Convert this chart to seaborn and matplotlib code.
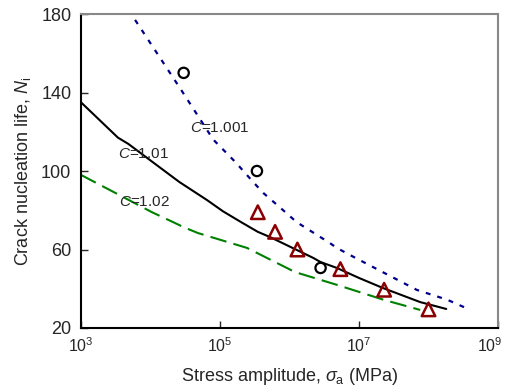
import numpy as np
import pandas as pd
import seaborn as sns
import matplotlib.pyplot as plt
from matplotlib.ticker import NullLocator
from matplotlib.transforms import ScaledTranslation

# curves (stress amplitude, crack nucleation life)
c1001_x = [6e3, 2.8e4, 8e4, 1.66e5, 3e5, 4.2e5, 9e5, 1.26e6, 3.8e6, 4.8e6, 7.4e6, 6.8e7, 1.86e8, 4e8]
c1001_y = [177, 141, 116, 104.6, 94.4, 88.8, 78.6, 74, 63.3, 60.8, 57.2, 39.4, 34.4, 29.2]

c101_x = [1e3, 3.4e3, 4.8e3, 2.6e4, 6.5e4, 1.1e5, 2e5, 3.5e5, 5.2e5, 2.2e6, 2.8e6, 4.8e6, 1e7, 2.2e7, 7.6e7, 1.8e8]
c101_y = [135, 117, 113.8, 94.4, 85.2, 79.5, 74, 69, 66.4, 55.7, 53.6, 50.6, 45.5, 40.4, 33.2, 29.7]

c102_x = [1e3, 2.6e3, 1.05e4, 2.1e4, 2.95e4, 4.8e4, 2.45e5, 1.2e6, 4.8e6, 2.3e7, 7.6e7]
c102_y = [98, 90.3, 79, 74, 71.5, 68.4, 60.8, 48.5, 42, 34.3, 29.2]

# experiments
circ_x = [3e4, 3.4e5, 2.8e6]
circ_y = [150, 100, 50.6]
tri_x = [3.5e5, 6.2e5, 1.3e6, 5.4e6, 2.3e7, 1e8]
tri_y = [79, 69, 60, 50, 39.5, 29.5]

x_ticks = [1e3, 1e5, 1e7, 1e9]
y_ticks = [20, 60, 100, 140, 180]

sns.set_style("ticks")
plt.rcParams["font.family"] = ["Liberation Sans", "DejaVu Sans"]
plt.rcParams["mathtext.fontset"] = "custom"
plt.rcParams["mathtext.rm"] = "Liberation Sans"
plt.rcParams["mathtext.it"] = "Liberation Sans:italic"

W, H = 506, 392
fig = plt.figure(figsize=(W / 100, H / 100), dpi=100)
ax = fig.add_axes([81 / W, 1 - 328 / H, 417 / W, 314 / H])

sns.lineplot(x=c1001_x, y=c1001_y, ax=ax, color="#00008B", lw=1.6, linestyle=(0, (2.2, 3.2)), sort=False)
sns.lineplot(x=c101_x, y=c101_y, ax=ax, color="black", lw=1.5, sort=False)
sns.lineplot(x=c102_x, y=c102_y, ax=ax, color="#008000", lw=1.5, linestyle=(0, (8, 3.5)), sort=False)

sns.scatterplot(x=circ_x, y=circ_y, ax=ax, marker="o", s=55, facecolor="none",
                edgecolor="black", linewidth=1.6, zorder=5)
sns.scatterplot(x=tri_x, y=tri_y, ax=ax, marker="^", s=95, facecolor="none",
                edgecolor="#8B0000", linewidth=1.8, zorder=5)

ax.set_xscale("log")
ax.set_xlim(1e3, 1e9)
ax.set_ylim(20, 180)
ax.set_xticks(x_ticks)
ax.xaxis.set_minor_locator(NullLocator())
ax.set_yticks(y_ticks)

# curve labels, placed in pixel position
for label, px, py in [("$C$=1.001", 220, 128), ("$C$=1.01", 143, 154), ("$C$=1.02", 144, 202)]:
    fig.text(px / W, 1 - py / H, label, fontsize=11, ha="center", va="center")

ax.set_xlabel(r"Stress amplitude, $\sigma_\mathrm{a}$ (MPa)", fontsize=13, labelpad=8)
ax.set_ylabel(r"Crack nucleation life, $N_\mathrm{i}$", fontsize=13, labelpad=6)
ax.tick_params(direction="in", length=5, width=1, labelsize=13, pad=7)
ax.tick_params(axis="x", labelsize=11.5, pad=6)

# keep 10^9 inside the picture
last = ax.get_xticklabels()[-1]
last.set_transform(last.get_transform() + ScaledTranslation(-8 / 100, 0, fig.dpi_scale_trans))

for s in ["left", "bottom"]:
    ax.spines[s].set_color("black")
    ax.spines[s].set_linewidth(1.5)
for s in ["top", "right"]:
    ax.spines[s].set_visible(True)
    ax.spines[s].set_color("#888888")
    ax.spines[s].set_linewidth(1.5)

fig.savefig("out.png", dpi=100)
